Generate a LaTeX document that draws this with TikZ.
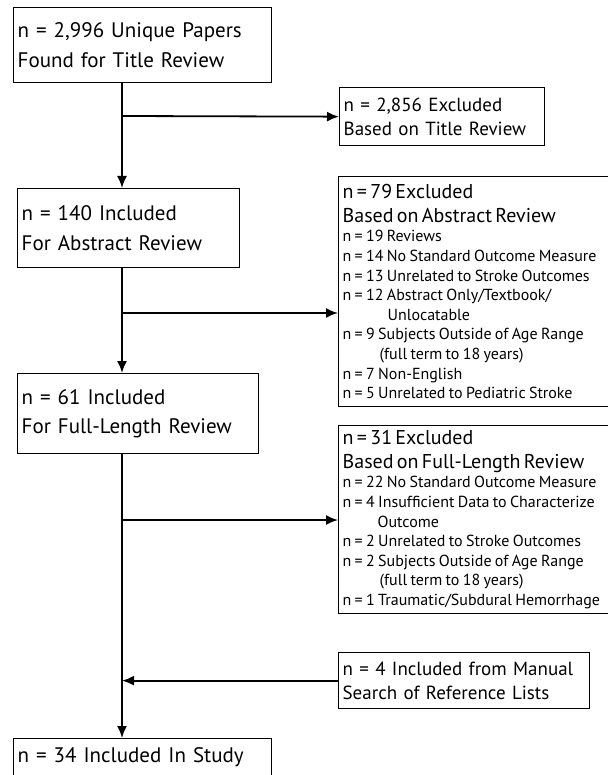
\documentclass[tikz,border=0pt]{standalone}
\usepackage{fontspec}
\setmainfont{PT Sans}
\usetikzlibrary{arrows.meta}
\tikzset{
  box/.style={draw, line width=1.3pt, anchor=north west, align=left,
    inner xsep=4pt, inner ysep=3pt},
  bigtext/.style={font=\fontsize{21}{29.5}\selectfont},
  midtext/.style={font=\fontsize{19}{24.5}\selectfont},
  flow/.style={line width=1.8pt, -{Latex[length=12pt,width=10pt]}},
}
\newcommand{\subfnt}{\fontsize{16}{19.6}\selectfont}
\newcommand{\hdrfnt}{\fontsize{20}{23.5}\selectfont}
\hyphenpenalty=10000
\begin{document}
\begin{tikzpicture}[x=1pt,y=-1pt]
                \useasboundingbox (0,0) rectangle (607,775);
                % main boxes
                \node[box, bigtext, text width=250pt, minimum height=75pt] (found) at (13,7)
                    {n = 2,996 Unique Papers\\Found for Title Review};
                \node[box, bigtext, text width=214pt, minimum height=79pt] (abstract) at (17,188)
                    {n = 140 Included\\For Abstract Review};
                \node[box, bigtext, text width=233pt, minimum height=80pt] (full) at (17,373)
                    {n = 61 Included\\For Full-Length Review};
                \node[box, bigtext, text width=250pt, minimum height=38pt] (study) at (13,738)
                    {n = 34 Included In Study};
                % side boxes
                \node[box, midtext, text width=197pt, minimum height=58pt] (title) at (339,87)
                    {n = 2,856 Excluded\\Based on Title Review};
                \node[box, text width=300pt, minimum height=230pt] (absx) at (338,176)
                    {{\hdrfnt n = 79 Excluded\\Based on Abstract Review\par}
                     {\subfnt n = 19 Reviews\\
                      n = 14 No Standard Outcome Measure\\
                      n = 13 Unrelated to Stroke Outcomes\\
                      n = 12 Abstract Only/Textbook/\\
                      \hspace*{45pt}Unlocatable\\
                      n = 9 Subjects Outside of Age Range\\
                      \hspace*{37pt}(full term to 18 years)\\
                      n = 7 Non-English\\
                      n = 5 Unrelated to Pediatric Stroke\par}};
                \node[box, text width=300pt, minimum height=188pt] (fullx) at (338,425)
                    {{\hdrfnt n = 31 Excluded\\Based on Full-Length Review\par}
                     {\subfnt n = 22 No Standard Outcome Measure\\
                      n = 4 Insufficient Data to Characterize\\
                      \hspace*{35pt}Outcome\\
                      n = 2 Unrelated to Stroke Outcomes\\
                      n = 2 Subjects Outside of Age Range\\
                      \hspace*{37pt}(full term to 18 years)\\
                      n = 1 Traumatic/Subdural Hemorrhage\par}};
                \node[box, midtext, text width=243pt, minimum height=56pt] (manual) at (338,652)
                    {n = 4 Included from Manual\\Search of Reference Lists};
                % spine and branches
                \coordinate (s1) at (122,116);
                \coordinate (s2) at (122,313);
                \coordinate (s3) at (122,520);
                \draw[flow] (found.south -| s1) -- (abstract.north -| s1);
                \draw[flow] (abstract.south -| s1) -- (full.north -| s1);
                \draw[flow] (full.south -| s1) -- (study.north -| s1);
                \draw[flow] (s1) -- (title.west);
                \draw[flow] (s2) -- (s2 -| absx.west);
                \draw[flow] (s3) -- (s3 -| fullx.west);
                \draw[flow] (manual.west) -- (manual.west -| s1);
            \end{tikzpicture}
\end{document}
